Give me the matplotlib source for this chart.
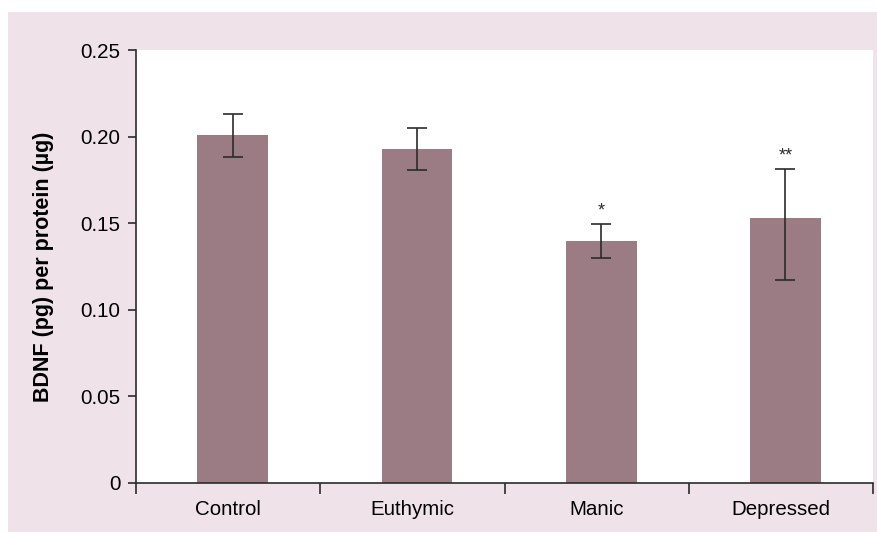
import matplotlib
matplotlib.use("Agg")
import matplotlib.pyplot as plt
from matplotlib.patches import Rectangle
import numpy as np

plt.rcParams['font.family'] = ['Liberation Sans', 'DejaVu Sans']

# BDNF levels per group (mean with lower/upper error)
groups = ['Control', 'Euthymic', 'Manic', 'Depressed']
bdnf_mean = [0.201, 0.193, 0.140, 0.153]
err_low = [0.0125, 0.012, 0.0099, 0.0358]
err_high = [0.0122, 0.0118, 0.0096, 0.0282]
sig_marks = ['', '', '*', '**']
y_ticks = [0, 0.05, 0.10, 0.15, 0.20, 0.25]
y_ticklabels = ['0', '0.05', '0.10', '0.15', '0.20', '0.25']

bar_color = '#9c7c84'
panel_color = '#efe3e9'
ink = '#2b2b2b'

fig = plt.figure(figsize=(8.77, 5.33), dpi=100)
fig.patch.set_facecolor('white')
# shaded panel behind the plot
fig.patches.append(Rectangle((8 / 877, 1 / 533), 869 / 877, 520 / 533,
                             transform=fig.transFigure, facecolor=panel_color,
                             edgecolor='none', zorder=-1))

ax = fig.add_axes([136 / 877, 50 / 533, 737 / 877, 433 / 533])
ax.set_zorder(1)
ax.set_facecolor('white')

x = np.arange(len(groups))
xb = x + 0.025
ax.bar(xb, bdnf_mean, width=0.385, color=bar_color, zorder=2)
ax.errorbar(xb, bdnf_mean, yerr=[err_low, err_high], fmt='none', ecolor=ink,
            elinewidth=1.2, capsize=7, capthick=1.2, zorder=3)

for xi, m, e, s in zip(xb, bdnf_mean, err_high, sig_marks):
    if s:
        ax.text(xi, m + e + 0.0075, s, ha='center', va='center',
                fontsize=13, color=ink)

ax.set_xlim(-0.5, len(groups) - 0.5)
ax.set_ylim(0, 0.25)

# group boundaries as tick marks, labels centred under bars
ax.set_xticks(np.arange(len(groups) + 1) - 0.5)
ax.set_xticklabels([])
ax.set_xticks(x, minor=True)
ax.set_xticklabels(groups, minor=True, fontsize=14.8)
ax.tick_params(axis='x', which='major', direction='out', length=8,
               width=1.2, color=ink)
ax.tick_params(axis='x', which='minor', length=0, pad=12)

ax.set_yticks(y_ticks)
ax.set_yticklabels(y_ticklabels, fontsize=14.8)
ax.tick_params(axis='y', direction='out', length=6, width=1.2, color=ink,
               pad=5)

ax.set_ylabel('BDNF (pg) per protein (\u00b5g)', fontsize=15.5,
              fontweight='bold', labelpad=19)

for side in ['top', 'right']:
    ax.spines[side].set_visible(False)
for side in ['left', 'bottom']:
    ax.spines[side].set_color(ink)
    ax.spines[side].set_linewidth(1.2)

fig.savefig('out.png', dpi=100)
